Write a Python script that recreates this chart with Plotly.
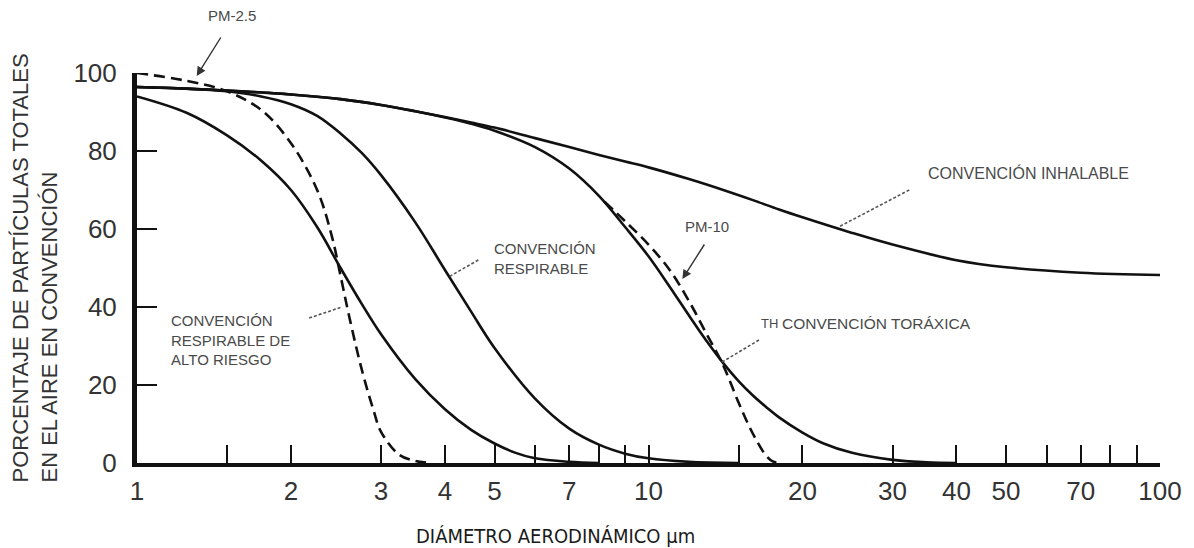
import plotly.graph_objects as go

# ---- data ----
inh_d = [1, 1.25, 1.5, 1.75, 2, 2.5, 3, 3.5, 4, 4.5, 5, 6, 7, 8, 9, 10, 12, 14, 16, 18, 20, 25, 30, 40, 50, 70, 100]
inh_v = [96.4, 96, 95.5, 95, 94.5, 93.3, 91.8, 90.2, 88.7, 87.3, 86, 83.3, 81, 79, 77.3, 75.8, 72.8, 70, 67.4, 65, 63,
         59, 56, 52, 50.2, 48.8, 48.2]

tho_d = [1, 1.5, 2, 2.5, 3, 3.5, 4, 4.5, 5, 6, 7, 8, 9, 10, 11, 12, 13, 14, 15, 16, 17, 18, 20, 22, 25, 30, 35, 40]
tho_v = [96.4, 95.5, 94.5, 93.3, 91.8, 90.2, 88.6, 87, 85.2, 81, 75.5, 68.5, 60.5, 53, 45.2, 37.8, 31.2, 25.6, 21,
         17.3, 14.3, 11.7, 7.8, 5, 2.6, 0.8, 0.2, 0]

res_d = [1, 1.25, 1.5, 1.75, 2, 2.25, 2.5, 2.75, 3, 3.5, 4, 4.5, 5, 6, 7, 8, 9, 10, 12, 15]
res_v = [96.4, 96, 95.3, 94, 92, 89, 84.5, 79.5, 73.8, 61.7, 49.5, 38.8, 29.5, 16.5, 8.8, 4.7, 2.4, 1.2, 0.3, 0]

hr_d = [1, 1.25, 1.5, 1.75, 2, 2.25, 2.5, 2.75, 3, 3.5, 4, 4.5, 5, 5.5, 6, 7, 8]
hr_v = [94, 89.8, 84, 77.5, 70, 60.5, 50, 40.8, 33, 21.5, 13.8, 8.5, 5, 2.6, 1.2, 0.3, 0]

pm25_d = [1, 1.25, 1.5, 1.75, 2, 2.25, 2.4, 2.5, 2.6, 2.75, 2.9, 3, 3.25, 3.5, 3.75]
pm25_v = [100, 98, 95.3, 90.5, 82, 70, 58.5, 48, 37.5, 24, 13.5, 8, 2.2, 0.5, 0]

pm10_d = [8.2, 9, 10, 11, 12, 13, 14, 15, 16, 17, 17.5, 18]
pm10_v = [67, 62, 56, 49.5, 41.5, 33, 25, 15.5, 7.5, 1.8, 0.4, 0]

x_ticks = [1, 1.5, 2, 3, 4, 5, 6, 7, 8, 9, 10, 15, 20, 30, 40, 50, 60, 70, 80, 90, 100]
x_labels = ["1", "", "2", "3", "4", "5", "", "7", "", "", "10", "", "20", "30", "40", "50", "", "70", "", "", "100"]
y_ticks = [0, 20, 40, 60, 80, 100]

fig = go.Figure()

def solid(d, v):
    fig.add_trace(go.Scatter(x=d, y=v, mode="lines", line=dict(color="#111", width=2.6, shape="spline", smoothing=1),
                             showlegend=False, hoverinfo="skip"))

def dashed(d, v):
    fig.add_trace(go.Scatter(x=d, y=v, mode="lines",
                             line=dict(color="#111", width=2.6, shape="spline", smoothing=1, dash="11px,6px"),
                             showlegend=False, hoverinfo="skip"))

solid(inh_d, inh_v)
solid(tho_d, tho_v)
solid(res_d, res_v)
solid(hr_d, hr_v)
dashed(pm25_d, pm25_v)
dashed(pm10_d, pm10_v)

lab_font = dict(family="Liberation Sans, Arial, sans-serif", size=15, color="#4a4a4a")

# paper coordinate helpers (plot area pixels 137..1165 x, 73..463 y)
L, R, T, B = 137, 1165, 73, 463
def px(xp):
    return (xp - L) / (R - L)
def py(yp):
    return (B - yp) / (B - T)

def label(x, y, text, xanchor="left", size=15):
    f = dict(lab_font)
    f["size"] = size
    fig.add_annotation(x=px(x), y=py(y), xref="paper", yref="paper", text=text, showarrow=False,
                       font=f, align="left", xanchor=xanchor, yanchor="middle")

label(232, 15, "PM-2.5", xanchor="center")
label(1033, 173, "CONVENCIÓN INHALABLE", xanchor="center", size=16)
label(710, 226, "PM-10", xanchor="center")
label(762, 323, "TH", xanchor="left", size=13)
label(783, 323, "CONVENCIÓN TORÁXICA", xanchor="left", size=15.5)
label(494, 258, "CONVENCIÓN<br>RESPIRABLE", xanchor="left")
label(169, 340, "CONVENCIÓN<br>RESPIRABLE DE<br>ALTO RIESGO", xanchor="left")

def arrow(x0, y0, x1, y1):
    fig.add_annotation(x=px(x1), y=py(y1), ax=x0 - x1, ay=y0 - y1, xref="paper", yref="paper",
                       axref="pixel", ayref="pixel", text="", showarrow=True,
                       arrowhead=2, arrowsize=1.3, arrowwidth=1.4, arrowcolor="#333")

def leader(x0, y0, x1, y1):
    fig.add_shape(type="line", xref="paper", yref="paper", x0=px(x0), y0=py(y0), x1=px(x1), y1=py(y1),
                  line=dict(color="#555", width=1.6, dash="3px,2px"))

arrow(222, 36, 197, 76)
arrow(708, 243, 685, 279)
leader(913, 190, 842, 227)
leader(762, 340, 725, 362)
leader(480, 260, 450, 277)
leader(310, 318, 343, 307)

# axis titles as annotations
fig.add_annotation(x=px(35), y=py(268), xref="paper", yref="paper", textangle=-90,
                   text="PORCENTAJE DE PARTÍCULAS TOTALES<br>EN EL AIRE EN CONVENCIÓN", showarrow=False,
                   align="left", xanchor="center", yanchor="middle",
                   font=dict(family="Liberation Sans, Arial, sans-serif", size=22, color="#333"))
fig.add_annotation(x=px(558), y=py(536), xref="paper", yref="paper",
                   text="DIÁMETRO AERODINÁMICO µm", showarrow=False, xanchor="center", yanchor="middle",
                   font=dict(family="DejaVu Sans Condensed, DejaVu Sans, sans-serif", size=20, color="#1a1a1a"))

tick_font = dict(family="Liberation Sans Narrow, Liberation Sans, Arial, sans-serif", size=26, color="#333")

fig.update_layout(
    width=1194, height=548,
    margin=dict(l=L, r=1194 - R, t=T, b=548 - B),
    paper_bgcolor="white", plot_bgcolor="white",
    xaxis=dict(type="log", range=[0, 2], tickvals=x_ticks, ticktext=x_labels,
               ticks="inside", ticklen=18, tickwidth=1.6, tickcolor="#111",
               showline=True, linewidth=4, linecolor="#111", showgrid=False, zeroline=False,
               tickfont=tick_font, ticklabelstandoff=2),
    yaxis=dict(range=[0, 100], tickvals=y_ticks, ticks="inside", ticklen=20, tickwidth=1.6, tickcolor="#111",
               showline=True, linewidth=5, linecolor="#111", showgrid=False, zeroline=False,
               tickfont=tick_font, ticklabelstandoff=10),
)

fig.write_html("out.html")
